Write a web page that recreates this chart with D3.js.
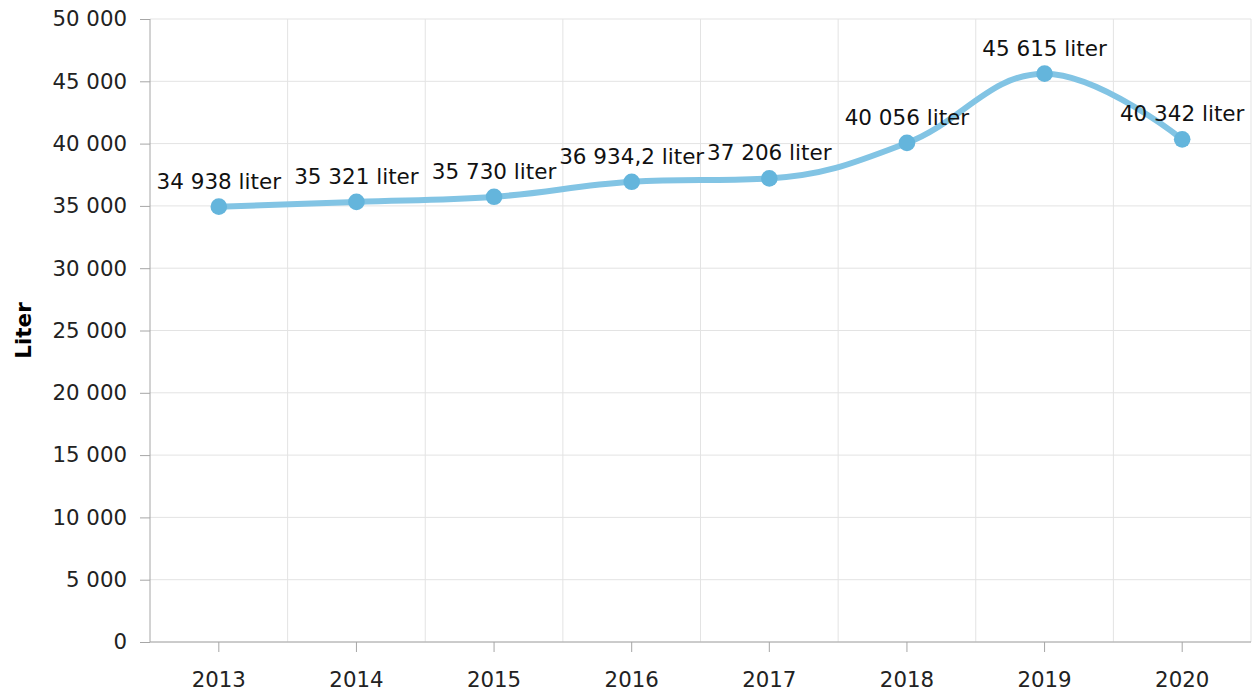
<!DOCTYPE html>
<html>
<head>
<meta charset="utf-8">
<script src="https://cdn.jsdelivr.net/npm/d3@7"></script>
<style>
  body { margin: 0; background: #fff; }
  svg { display: block; font-family: "DejaVu Sans", Verdana, sans-serif; }
</style>
</head>
<body>
<svg id="chart" width="1259" height="693"></svg>
<script>
const categories = ["2013", "2014", "2015", "2016", "2017", "2018", "2019", "2020"];
const values = [34938, 35321, 35730, 36934.2, 37206, 40056, 45615, 40342];
const valueLabels = ["34 938 liter", "35 321 liter", "35 730 liter", "36 934,2 liter", "37 206 liter", "40 056 liter", "45 615 liter", "40 342 liter"];
const yTicks = [0, 5000, 10000, 15000, 20000, 25000, 30000, 35000, 40000, 45000, 50000];
const yTitle = "Liter";

(function () {
const W = 1259, H = 693;
const mLeft = 150, mRight = 1251, mTop = 19, mBottom = 642;
const svg = d3.select("#chart");

const x = d3.scaleBand().domain(categories).range([mLeft, mRight]).padding(0);
const y = d3.scaleLinear().domain([0, 50000]).range([mBottom, mTop]);
const cx = d => x(d) + x.bandwidth() / 2;
const fmt = v => d3.format(",")(v).replace(/,/g, " ");

// horizontal grid
svg.append("g").selectAll("line").data(yTicks).join("line")
  .attr("x1", mLeft).attr("x2", mRight)
  .attr("y1", d => y(d)).attr("y2", d => y(d))
  .attr("stroke", "#e3e3e3").attr("stroke-width", 1);

// vertical grid at band boundaries
const bounds = categories.slice(1).map(c => x(c)).concat([mRight]);
svg.append("g").selectAll("line").data(bounds).join("line")
  .attr("x1", d => d).attr("x2", d => d)
  .attr("y1", mTop).attr("y2", mBottom)
  .attr("stroke", "#e3e3e3").attr("stroke-width", 1);

// y axis
const yAxis = d3.axisLeft(y).tickValues(yTicks).tickFormat(fmt).tickSize(10).tickPadding(13);
const gy = svg.append("g").attr("transform", `translate(${mLeft},0)`).call(yAxis);
gy.select(".domain").attr("stroke", "#a6a6a6").attr("d", `M0,${mTop}V${mBottom}`);
gy.selectAll(".tick line").attr("stroke", "#a6a6a6");
gy.selectAll(".tick text").attr("font-size", "21.3px").attr("fill", "#222")
  .attr("font-family", "DejaVu Sans, sans-serif");

// x axis
const xAxis = d3.axisBottom(x).tickSize(10).tickPadding(20);
const gx = svg.append("g").attr("transform", `translate(0,${mBottom})`).call(xAxis);
gx.select(".domain").attr("stroke", "#a6a6a6").attr("d", `M${mLeft},0H${mRight}`);
gx.selectAll(".tick line").attr("stroke", "#a6a6a6");
gx.selectAll(".tick text").attr("font-size", "21.3px").attr("fill", "#222")
  .attr("font-family", "DejaVu Sans, sans-serif");

// y title
svg.append("text")
  .attr("transform", `translate(31,${(mTop + mBottom) / 2}) rotate(-90)`)
  .attr("text-anchor", "middle")
  .attr("font-size", "21.5px").attr("font-weight", "bold").attr("fill", "#000")
  .text(yTitle);

// Highcharts-like spline curve
function HCSpline(context) { this._context = context; }
HCSpline.prototype = {
  areaStart() { this._line = 0; }, areaEnd() { this._line = NaN; },
  lineStart() { this._pts = []; },
  point(px, py) { this._pts.push([+px, +py]); },
  lineEnd() {
    const p = this._pts, n = p.length, c = this._context;
    if (!n) return;
    const sm = 1.5, den = sm + 1;
    const ctrl = p.map(() => null);
    for (let i = 1; i < n - 1; i++) {
      const [lx, ly] = p[i - 1], [px, py] = p[i], [nx, ny] = p[i + 1];
      let lcx = (sm * px + lx) / den, lcy = (sm * py + ly) / den;
      let rcx = (sm * px + nx) / den, rcy = (sm * py + ny) / den;
      let corr = 0;
      if (rcx !== lcx) corr = ((rcy - lcy) * (rcx - px)) / (rcx - lcx) + py - rcy;
      lcy += corr; rcy += corr;
      if (lcy > ly && lcy > py) { lcy = Math.max(ly, py); rcy = 2 * py - lcy; }
      else if (lcy < ly && lcy < py) { lcy = Math.min(ly, py); rcy = 2 * py - lcy; }
      if (rcy > ny && rcy > py) { rcy = Math.max(ny, py); lcy = 2 * py - rcy; }
      else if (rcy < ny && rcy < py) { rcy = Math.min(ny, py); lcy = 2 * py - rcy; }
      ctrl[i] = { lcx, lcy, rcx, rcy };
    }
    c.moveTo(p[0][0], p[0][1]);
    for (let i = 1; i < n; i++) {
      const a = ctrl[i - 1], b = ctrl[i];
      c.bezierCurveTo(
        a ? a.rcx : p[i - 1][0], a ? a.rcy : p[i - 1][1],
        b ? b.lcx : p[i][0], b ? b.lcy : p[i][1],
        p[i][0], p[i][1]);
    }
  }
};
const hcSpline = ctx => new HCSpline(ctx);

const data = categories.map((c, i) => ({ c, v: values[i], label: valueLabels[i] }));
const line = d3.line().x(d => cx(d.c)).y(d => y(d.v)).curve(hcSpline);

svg.append("path").datum(data)
  .attr("d", line)
  .attr("fill", "none")
  .attr("stroke", "#82c4e4")
  .attr("stroke-width", 6)
  .attr("stroke-linecap", "round")
  .attr("stroke-linejoin", "round");

svg.append("g").selectAll("circle").data(data).join("circle")
  .attr("cx", d => cx(d.c)).attr("cy", d => y(d.v)).attr("r", 8.3)
  .attr("fill", "#64b5dc");

svg.append("g").selectAll("text").data(data).join("text")
  .attr("x", d => cx(d.c)).attr("y", d => y(d.v) - 18)
  .attr("text-anchor", "middle")
  .attr("font-size", "21.5px").attr("fill", "#111")
  .text(d => d.label);
})();
</script>
</body>
</html>
